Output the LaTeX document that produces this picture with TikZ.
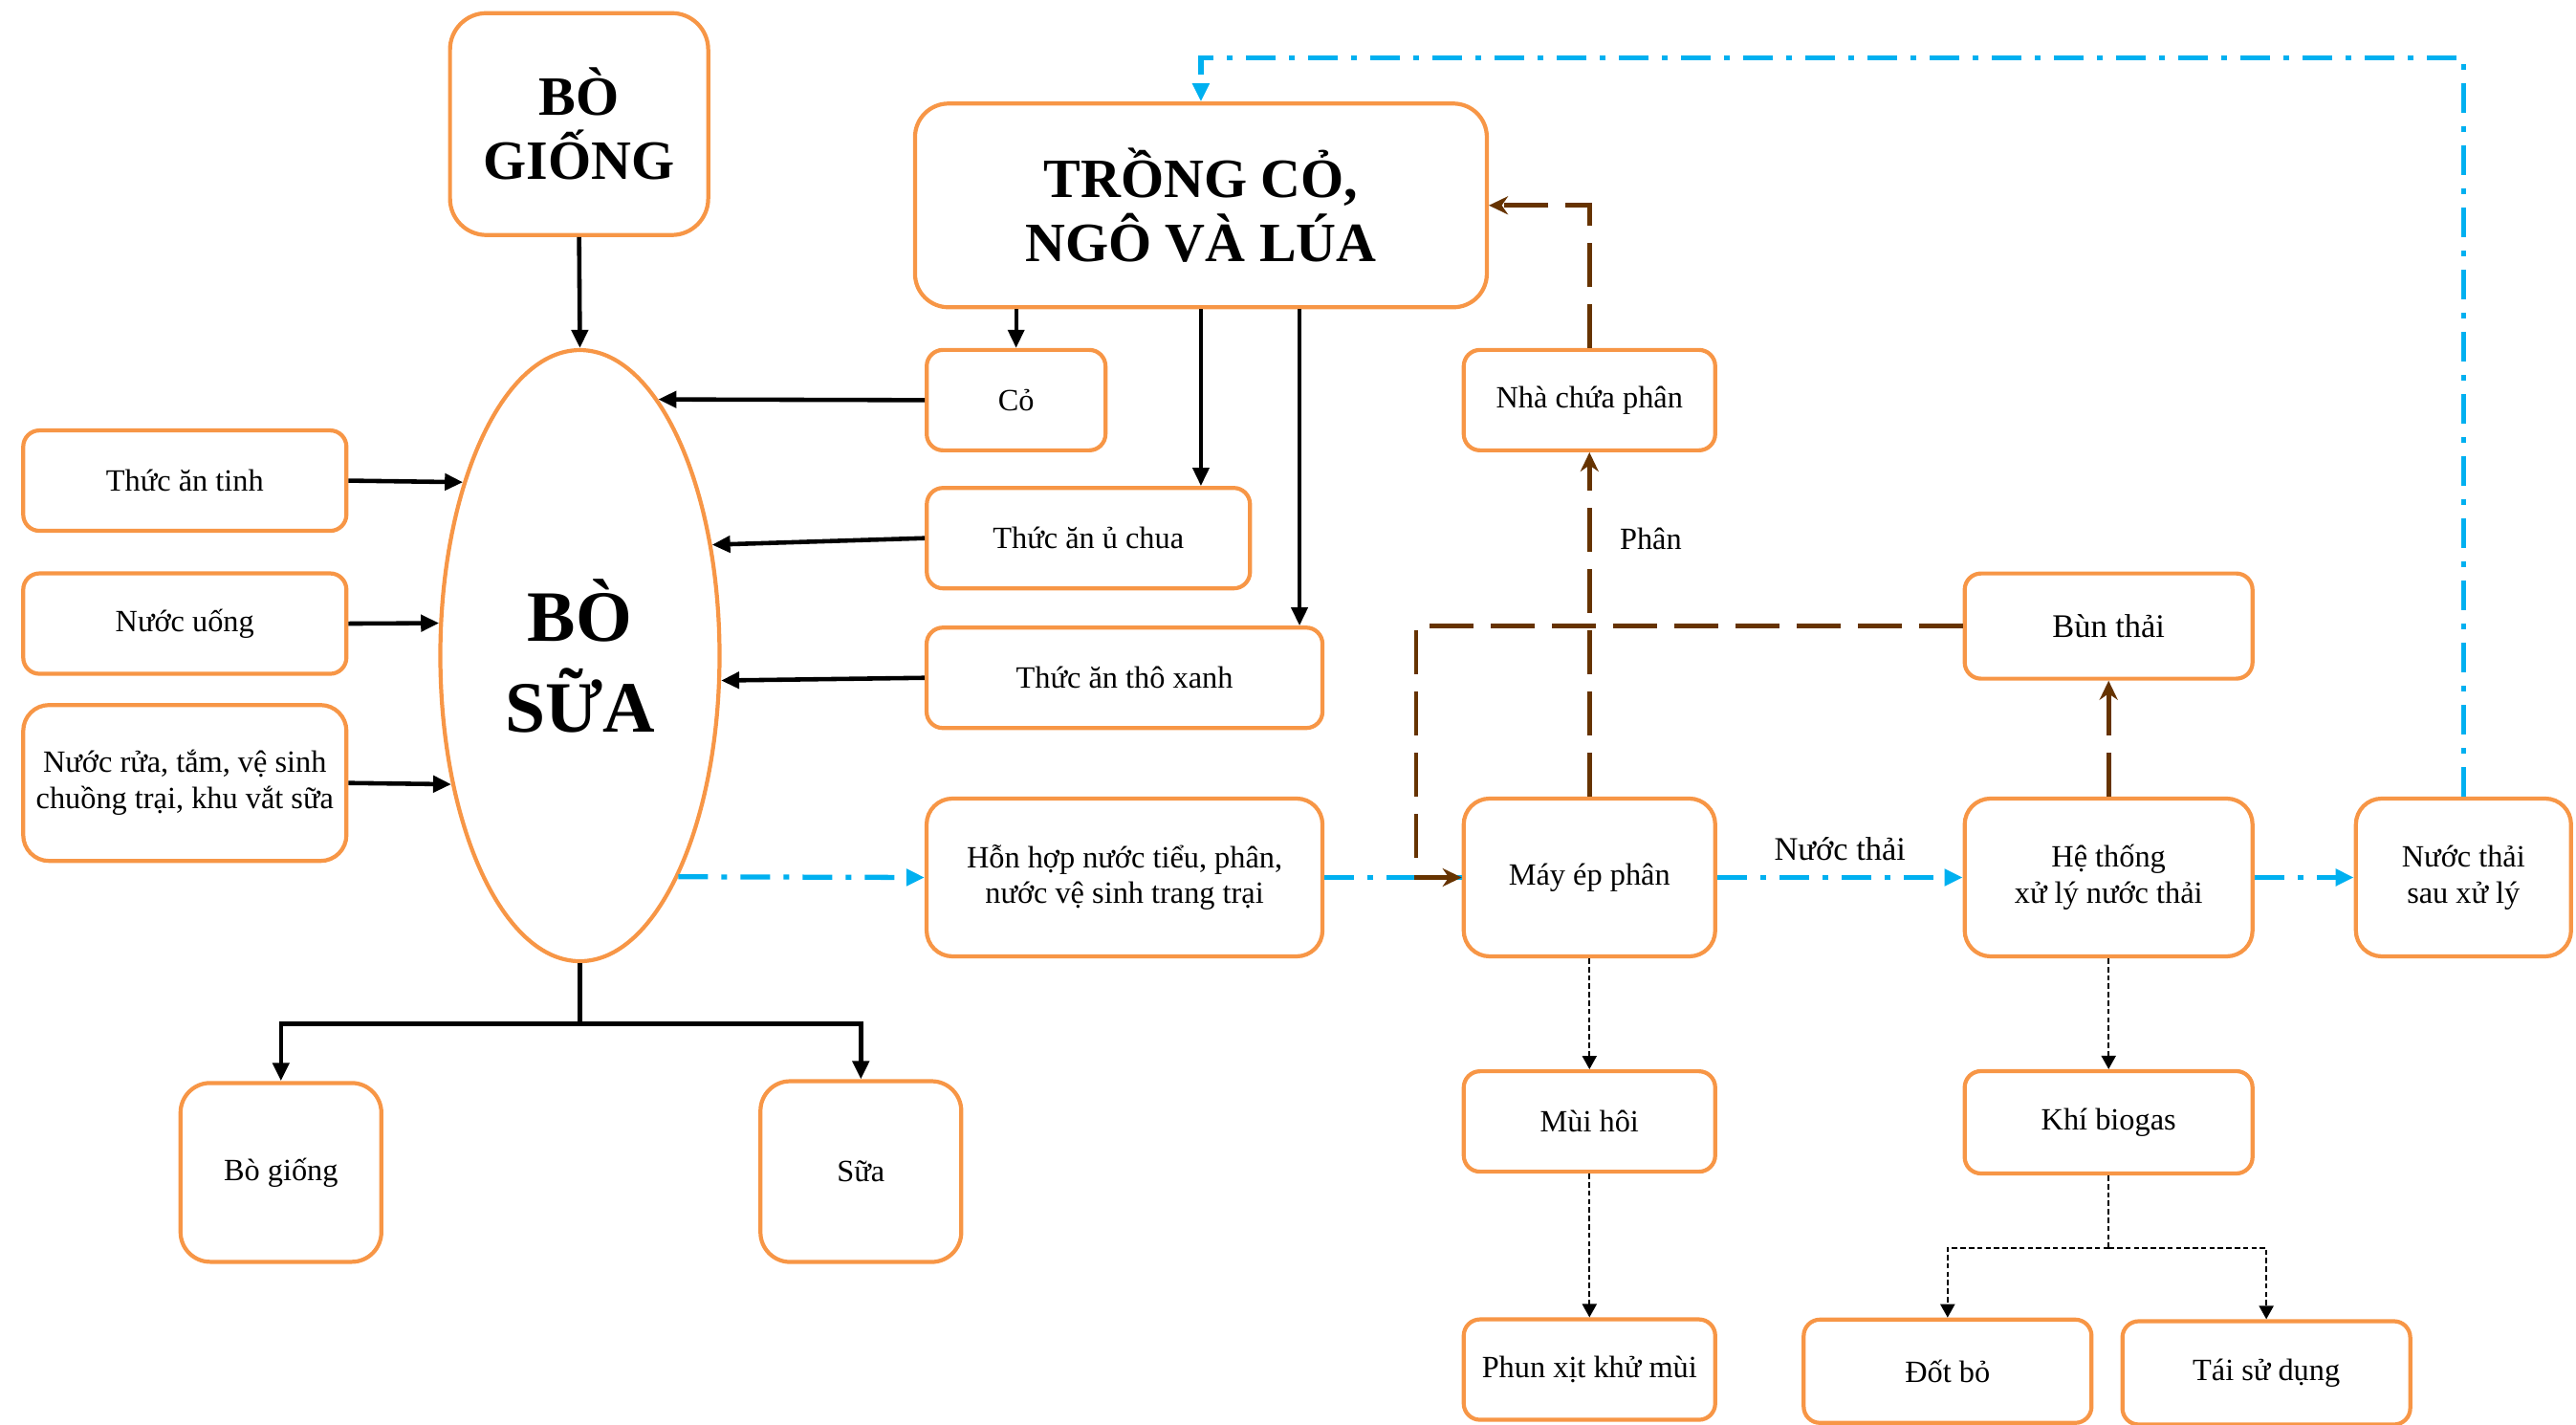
\documentclass[tikz,border=0pt]{standalone}
\usepackage{fontspec}
\setmainfont{Liberation Serif}
\usetikzlibrary{shapes.geometric,arrows.meta,calc}
\definecolor{boxorange}{HTML}{F79646}
\definecolor{waterblue}{HTML}{00B0F0}
\definecolor{dungbrown}{HTML}{663300}

\begin{document}
\begin{tikzpicture}[x=0.01718cm,y=-0.01718cm]
\tikzset{box/.style = {shape=rectangle,draw=boxorange,line width=1.2pt,rounded corners=#1,align=center,inner sep=2pt,font=\fontsize{9.2}{10.8}\selectfont},
box/.default=0.17cm,
big/.style = {font=\bfseries\fontsize{16.5}{19}\selectfont},
feed/.style = {-{Triangle[length=0.19cm,width=0.17cm]},line width=1.3pt},
water/.style = {-{Triangle[length=0.19cm,width=0.17cm]},draw=waterblue,line width=1.5pt,dash pattern=on 0.31cm off 0.14cm on 0.06cm off 0.14cm},
dung/.style = {-{Stealth[length=0.2cm,width=0.19cm]},draw=dungbrown,line width=1.4pt,dash pattern=on 0.46cm off 0.18cm},
gas/.style = {-{Triangle[length=0.14cm,width=0.15cm]},line width=0.6pt,dash pattern=on 1.6pt off 0.9pt}}
\useasboundingbox (0,0) rectangle (1568,867);
% nodes
\node[box=0.38cm,big,minimum width=2.70cm,minimum height=2.32cm] (bogiong) at (352.5,75.5) {BÒ\\GIỐNG};
\node[box=0.35cm,big,minimum width=5.98cm,minimum height=2.13cm] (trong) at (731,125) {TRỒNG CỎ,\\NGÔ VÀ LÚA};
\node[ellipse,draw=boxorange,line width=1.2pt,minimum width=2.92cm,minimum height=6.39cm,inner sep=0pt,align=center,font=\bfseries\fontsize{21.5}{27}\selectfont] (bosua) at (353,399) {BÒ\\SỮA};
\node[box,minimum width=1.87cm,minimum height=1.05cm] (co) at (618.5,243.5) {Cỏ};
\node[box,minimum width=3.38cm,minimum height=1.05cm] (uchua) at (662.5,327.5) {Thức ăn ủ chua};
\node[box,minimum width=4.14cm,minimum height=1.05cm] (thoxanh) at (684.5,412.5) {Thức ăn thô xanh};
\node[box=0.27cm,minimum width=4.14cm,minimum height=1.65cm] (honhop) at (684.5,534) {Hỗn hợp nước tiểu, phân,\\nước vệ sinh trang trại};
\node[box,minimum width=3.38cm,minimum height=1.05cm] (tinh) at (112.5,292.5) {Thức ăn tinh};
\node[box,minimum width=3.38cm,minimum height=1.05cm] (uong) at (112.5,379.5) {Nước uống};
\node[box=0.27cm,minimum width=3.38cm,minimum height=1.63cm] (nuocrua) at (112.5,476.5) {Nước rửa, tắm, vệ sinh\\chuồng trại, khu vắt sữa};
\node[box=0.31cm,minimum width=2.10cm,minimum height=1.87cm] (giong) at (171,713.5) {Bò giống};
\node[box=0.31cm,minimum width=2.10cm,minimum height=1.89cm] (sua) at (524,713) {Sữa};
\node[box,minimum width=2.63cm,minimum height=1.05cm] (nhachua) at (967.5,243.5) {Nhà chứa phân};
\node[box,minimum width=3.01cm,minimum height=1.10cm,font=\fontsize{9.8}{11.5}\selectfont] (bun) at (1283.5,381) {Bùn thải};
\node[box=0.27cm,minimum width=2.63cm,minimum height=1.65cm] (mayep) at (967.5,534) {Máy ép phân};
\node[box=0.27cm,minimum width=3.01cm,minimum height=1.65cm] (hethong) at (1283.5,534) {Hệ thống\\xử lý nước thải};
\node[box=0.27cm,minimum width=2.25cm,minimum height=1.65cm] (sauxl) at (1499.5,534) {Nước thải\\sau xử lý};
\node[box,minimum width=2.63cm,minimum height=1.05cm] (muihoi) at (967.5,682.5) {Mùi hôi};
\node[box,minimum width=2.63cm,minimum height=1.05cm] (phunxit) at (967.5,833.5) {Phun xịt khử mùi};
\node[box,minimum width=3.01cm,minimum height=1.07cm] (biogas) at (1283.5,683) {Khí biogas};
\node[box,minimum width=3.01cm,minimum height=1.08cm] (dotbo) at (1185.5,834.5) {Đốt bỏ};
\node[box,minimum width=3.01cm,minimum height=1.08cm] (taisd) at (1379.5,835.5) {Tái sử dụng};
\coordinate (top) at (731,35);
\coordinate (bend) at (862,381);
% feed and products
\draw[feed] (bogiong.south) -- (bosua.north);
\draw[feed] (co.west) -- (bosua.73.2);
\draw[feed] (uchua.west) -- (bosua.40.7);
\draw[feed] (thoxanh.west) -- (bosua.-10.7);
\draw[feed] (tinh.east) -- (bosua.124.3);
\draw[feed] (uong.east) -- (bosua.167.2);
\draw[feed] (nuocrua.east) -- (bosua.225.4);
\draw[feed,line width=1.1pt] (trong.south -| co.north) -- (co.north);
\draw[feed,line width=1.1pt] (trong.south) -- (trong.south |- uchua.north);
\draw[feed,line width=1.1pt] ($(trong.south)+(60,0)$) coordinate (t3) -- (t3 |- thoxanh.north);
\draw[line width=1.3pt] (bosua.south) -- ++(0,37) coordinate (split);
\draw[feed] (split) -| (giong.north);
\draw[feed] (split) -| (sua.north);
% water
\draw[water] (bosua.-66.15) -- (honhop.west);
\draw[water,-] (honhop.east) -- (mayep.west);
\draw[water] (mayep.east) -- node[above=1pt,text=black,font=\fontsize{9.8}{11.5}\selectfont] {Nước thải} (hethong.west);
\draw[water] (hethong.east) -- (sauxl.west);
\draw[water] (sauxl.north) |- (top) -- (trong.north);
% dung
\draw[dung] (mayep.north) -- node[pos=0.75,right=5pt,font=\fontsize{9.2}{10.8}\selectfont] {Phân} (nhachua.south);
\draw[dung] (nhachua.north) |- (trong.east);
\draw[dung] (hethong.north) -- (bun.south);
\draw[dung] (bun.west) -- (bend) |- (mayep.west);
% gas and smell
\draw[gas] (mayep.south) -- (muihoi.north);
\draw[gas] (muihoi.south) -- (phunxit.north);
\draw[gas] (hethong.south) -- (biogas.north);
\draw[gas,-] (biogas.south) -- ++(0,44) coordinate (gsplit);
\draw[gas] (gsplit) -| (dotbo.north);
\draw[gas] (gsplit) -| (taisd.north);
\end{tikzpicture}
\end{document}
